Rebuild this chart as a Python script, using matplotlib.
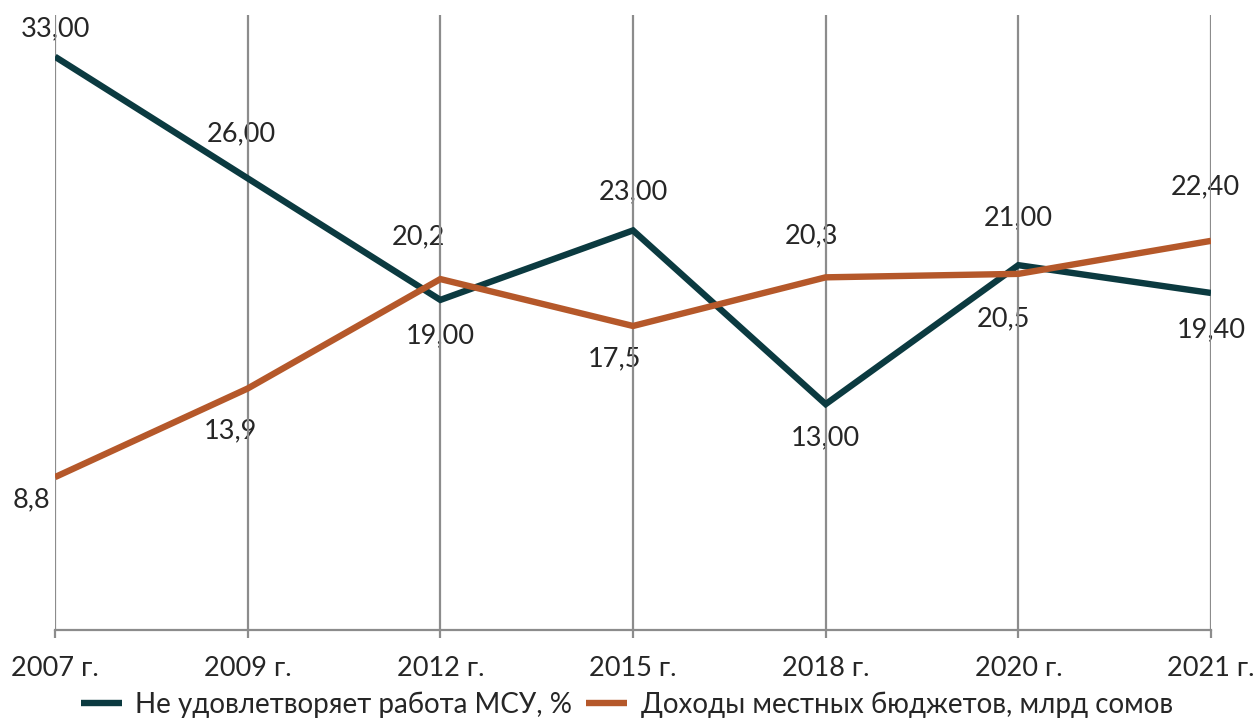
import matplotlib
matplotlib.use("Agg")
import matplotlib.pyplot as plt

categories = ["2007 г.", "2009 г.", "2012 г.", "2015 г.", "2018 г.", "2020 г.", "2021 г."]
dissatisfied = [33.00, 26.00, 19.00, 23.00, 13.00, 21.00, 19.40]
revenues = [8.8, 13.9, 20.2, 17.5, 20.3, 20.5, 22.4]
dissatisfied_labels = ["33,00", "26,00", "19,00", "23,00", "13,00", "21,00", "19,40"]
revenues_labels = ["8,8", "13,9", "20,2", "17,5", "20,3", "20,5", "22,40"]
series_names = ["Не удовлетворяет работа МСУ, %", "Доходы местных бюджетов, млрд сомов"]

TEAL = "#0b3a40"
ORANGE = "#b5582a"
GRID = "#8c8c8c"
TXT = "#262626"

plt.rcParams['font.family'] = ['Lato', 'DejaVu Sans']

fig = plt.figure(figsize=(12.54, 7.22), dpi=100)
W, H = 1254, 722
ax = fig.add_axes([55 / W, 1 - 630 / H, (1211 - 55) / W, (630 - 15) / H])
x = list(range(len(categories)))
ax.set_xlim(0, len(categories) - 1)
ax.set_ylim(0, 35.4)

for xi in x:
    ax.axvline(xi, color=GRID, lw=1.6, zorder=1)

l1, = ax.plot(x, dissatisfied, color=TEAL, lw=4.6, solid_capstyle='butt', solid_joinstyle='miter', zorder=3,
              label=series_names[0])
l2, = ax.plot(x, revenues, color=ORANGE, lw=4.6, solid_capstyle='butt', solid_joinstyle='miter', zorder=3,
              label=series_names[1])

# label offsets in pixels (dx, dy)
d_off = [(0, 28), (-6, 44), (0, -36), (0, 39), (0, -34), (0, 47), (0, -37)]
r_off = [(-24, -23), (-17, -42), (-22, 42), (-19, -33), (-14, 42), (-15, -45), (-6, 54)]
for xi, v, s, o in zip(x, dissatisfied, dissatisfied_labels, d_off):
    ax.annotate(s, (xi, v), xytext=o, textcoords='offset pixels', ha='center', va='center',
                fontsize=19.5, color=TXT, zorder=0, annotation_clip=False)
for xi, v, s, o in zip(x, revenues, revenues_labels, r_off):
    ax.annotate(s, (xi, v), xytext=o, textcoords='offset pixels', ha='center', va='center',
                fontsize=19.5, color=TXT, zorder=0, annotation_clip=False)

for sp in ['top', 'right', 'left']:
    ax.spines[sp].set_visible(False)
ax.spines['bottom'].set_color(GRID)
ax.spines['bottom'].set_linewidth(1.6)
ax.set_yticks([])
ax.set_xticks(x)
ax.set_xticklabels(categories, fontsize=19.5, color=TXT)
ax.tick_params(axis='x', direction='out', length=6, width=1.6, color=GRID, pad=13)

fig.legend(handles=[l1, l2], loc='center', bbox_to_anchor=(0.5, 1 - 705 / H), ncol=2, frameon=False,
           fontsize=20, handlelength=1.45, handletextpad=0.5, columnspacing=0.5, labelcolor=TXT)

fig.savefig("out.png", dpi=100)
